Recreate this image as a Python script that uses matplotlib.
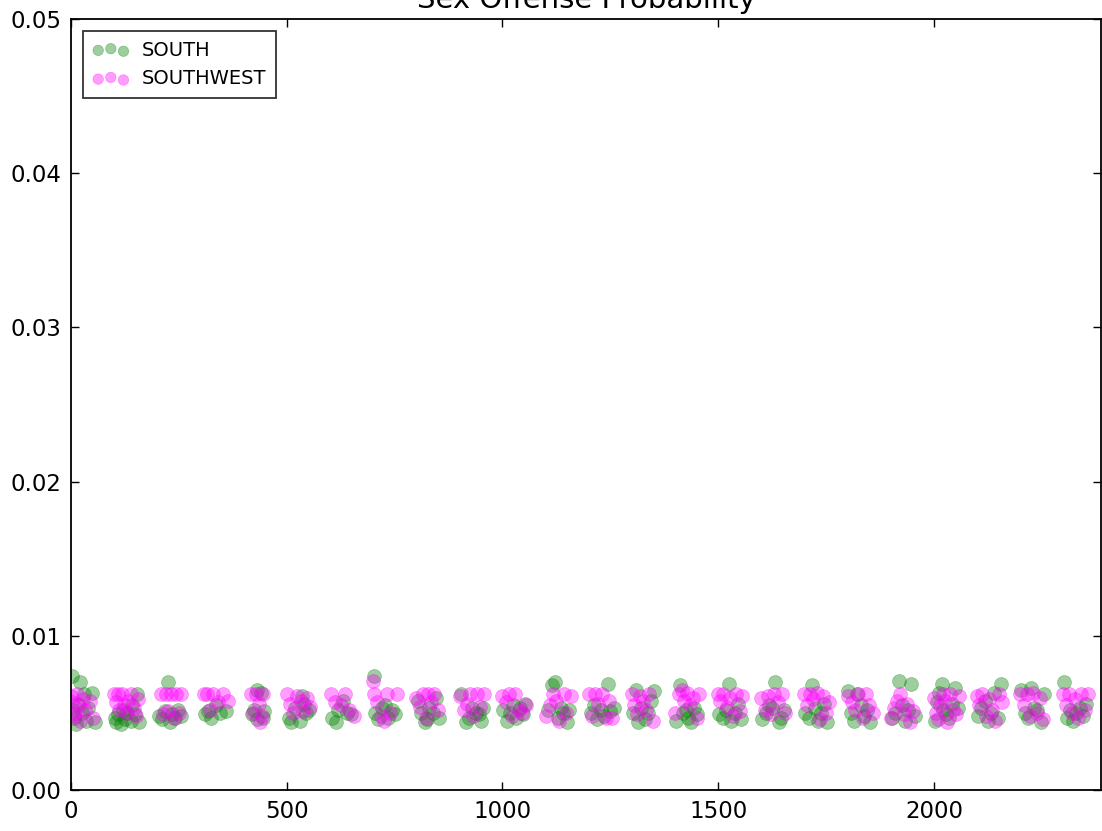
import numpy as np
import matplotlib
matplotlib.use("Agg")
import matplotlib.pyplot as plt
from matplotlib.ticker import FormatStrFormatter

# time of day as HHMM, probability of a sex offense per report
south_time = [
    2, 5, 8, 12, 15, 20, 25, 30, 35, 40, 48, 55,
    102, 105, 110, 115, 120, 125, 130, 138, 142, 148, 152, 158,
    205, 212, 218, 225, 230, 235, 240, 248, 255,
    310, 318, 325, 335, 345, 360,
    420, 425, 430, 432, 440, 445, 448,
    505, 510, 520, 530, 535, 540, 545, 552,
    605, 615, 620, 630, 640, 650,
    702, 705, 712, 720, 728, 735, 745, 752,
    805, 812, 820, 825, 830, 838, 845, 852,
    905, 915, 922, 930, 938, 945, 950, 955,
    1002, 1010, 1018, 1025, 1032, 1040, 1048, 1052,
    1105, 1115, 1122, 1128, 1135, 1140, 1150, 1155,
    1205, 1212, 1220, 1228, 1235, 1245, 1250, 1258,
    1302, 1310, 1315, 1322, 1330, 1338, 1345, 1352,
    1402, 1412, 1418, 1425, 1430, 1438, 1445, 1452,
    1502, 1510, 1518, 1525, 1530, 1538, 1545, 1552,
    1602, 1610, 1618, 1625, 1632, 1640, 1645, 1652,
    1702, 1710, 1718, 1725, 1732, 1738, 1745, 1752,
    1800, 1808, 1815, 1822, 1830, 1838, 1845, 1852,
    1902, 1910, 1918, 1925, 1932, 1940, 1948, 1955,
    2002, 2008, 2012, 2018, 2022, 2028, 2035, 2042, 2050, 2055,
    2102, 2110, 2118, 2125, 2132, 2140, 2148, 2155,
    2202, 2210, 2218, 2225, 2232, 2240, 2248, 2255,
    2302, 2308, 2315, 2322, 2330, 2338, 2345, 2352,
]
south_prob = [
    .0074, .0052, .0047, .0043, .0056, .0070, .0050, .0062, .0045, .0053, .0063, .0044,
    .0047, .0044, .0049, .0043, .0052, .0046, .0050, .0045, .0055, .0049, .0062, .0044,
    .0048, .0046, .0051, .0070, .0044, .0049, .0047, .0052, .0048,
    .0049, .0051, .0047, .0055, .0050, .0051,
    .0049, .0052, .0065, .0046, .0063, .0047, .0051,
    .0047, .0044, .0053, .0045, .0061, .0056, .0050, .0052,
    .0047, .0044, .0052, .0058, .0050, .0049,
    .0074, .0050, .0046, .0053, .0055, .0047, .0052, .0049,
    .0058, .0050, .0044, .0046, .0053, .0050, .0060, .0047,
    .0062, .0044, .0047, .0053, .0050, .0049, .0045, .0053,
    .0052, .0045, .0050, .0055, .0047, .0053, .0049, .0056,
    .0052, .0068, .0070, .0047, .0053, .0050, .0044, .0052,
    .0050, .0055, .0046, .0052, .0048, .0069, .0051, .0053,
    .0050, .0065, .0044, .0053, .0046, .0050, .0058, .0064,
    .0045, .0068, .0050, .0052, .0047, .0044, .0053, .0049,
    .0049, .0047, .0052, .0069, .0045, .0050, .0056, .0046,
    .0046, .0050, .0055, .0053, .0070, .0044, .0047, .0052,
    .0050, .0047, .0068, .0053, .0045, .0050, .0056, .0044,
    .0064, .0050, .0045, .0062, .0055, .0048, .0052, .0044,
    .0047, .0050, .0071, .0055, .0045, .0052, .0069, .0048,
    .0045, .0057, .0063, .0069, .0052, .0049, .0047, .0056, .0066, .0053,
    .0048, .0053, .0058, .0045, .0050, .0063, .0047, .0069,
    .0065, .0050, .0047, .0066, .0053, .0052, .0044, .0062,
    .0070, .0047, .0052, .0045, .0050, .0053, .0048, .0056,
]

southwest_time = [
    1, 3, 6, 10, 14, 18, 22, 28, 33, 45, 52,
    100, 104, 108, 112, 118, 122, 128, 133, 140, 145, 150, 155,
    208, 213, 220, 226, 232, 238, 244, 250, 256,
    308, 315, 322, 330, 340, 352, 365,
    418, 422, 428, 435, 438, 442, 446,
    500, 508, 515, 525, 532, 538, 548, 555,
    602, 612, 625, 635, 645, 655,
    700, 703, 710, 718, 725, 732, 740, 755,
    800, 808, 815, 822, 828, 835, 842, 850,
    902, 910, 918, 925, 932, 940, 948, 958,
    1000, 1008, 1015, 1022, 1030, 1038, 1045, 1055,
    1102, 1110, 1118, 1125, 1132, 1142, 1148, 1158,
    1200, 1208, 1215, 1222, 1230, 1240, 1248, 1255,
    1300, 1305, 1312, 1318, 1325, 1332, 1340, 1348,
    1400, 1410, 1415, 1420, 1428, 1435, 1442, 1450, 1455,
    1500, 1505, 1512, 1520, 1528, 1535, 1542, 1550, 1556,
    1600, 1608, 1615, 1622, 1630, 1638, 1648, 1655,
    1700, 1706, 1712, 1720, 1728, 1735, 1742, 1750, 1756,
    1802, 1810, 1818, 1825, 1835, 1842, 1850, 1858,
    1900, 1908, 1915, 1922, 1930, 1938, 1945, 1952,
    2000, 2005, 2010, 2015, 2020, 2025, 2030, 2038, 2045, 2052, 2058,
    2100, 2105, 2112, 2120, 2128, 2135, 2142, 2150, 2158,
    2200, 2208, 2215, 2222, 2230, 2238, 2245, 2252,
    2300, 2306, 2312, 2320, 2328, 2335, 2342, 2350, 2356,
]
southwest_prob = [
    .0061, .0057, .0050, .0048, .0062, .0055, .0045, .0059, .0052, .0058, .0047,
    .0062, .0057, .0062, .0052, .0062, .0055, .0050, .0058, .0062, .0053, .0048, .0059,
    .0062, .0049, .0062, .0051, .0062, .0047, .0062, .0050, .0062,
    .0062, .0062, .0052, .0062, .0057, .0062, .0058,
    .0062, .0050, .0062, .0056, .0044, .0048, .0062,
    .0062, .0056, .0050, .0061, .0058, .0051, .0060, .0054,
    .0062, .0057, .0055, .0062, .0052, .0048,
    .0071, .0062, .0057, .0048, .0045, .0062, .0050, .0062,
    .0060, .0054, .0062, .0047, .0062, .0057, .0062, .0052,
    .0061, .0052, .0056, .0062, .0048, .0062, .0054, .0062,
    .0061, .0057, .0062, .0048, .0062, .0052, .0050, .0055,
    .0048, .0055, .0062, .0058, .0045, .0062, .0050, .0061,
    .0062, .0048, .0062, .0056, .0062, .0047, .0058, .0047,
    .0062, .0055, .0049, .0061, .0058, .0052, .0062, .0045,
    .0050, .0062, .0065, .0058, .0063, .0055, .0060, .0047, .0062,
    .0062, .0058, .0062, .0054, .0060, .0048, .0062, .0051, .0061,
    .0060, .0052, .0061, .0049, .0062, .0057, .0062, .0050,
    .0062, .0055, .0062, .0059, .0063, .0046, .0061, .0050, .0057,
    .0061, .0057, .0052, .0062, .0047, .0062, .0055, .0050,
    .0047, .0053, .0058, .0062, .0049, .0056, .0044, .0051,
    .0060, .0050, .0046, .0055, .0062, .0058, .0044, .0062, .0052, .0049, .0061,
    .0061, .0055, .0062, .0048, .0059, .0052, .0045, .0062, .0057,
    .0062, .0055, .0062, .0048, .0063, .0050, .0060, .0046,
    .0062, .0055, .0062, .0050, .0059, .0047, .0062, .0052, .0062,
]

fig = plt.figure(figsize=(11.02, 8.31), dpi=100)
ax = fig.add_axes([0.0644, 0.0493, 0.9350, 0.9277])

ax.scatter(south_time, south_prob, s=100, color="#008000", alpha=0.38,
           linewidths=0.5, label="SOUTH")
ax.scatter(southwest_time, southwest_prob, s=100, color="#FF00FF", alpha=0.38,
           linewidths=0.5, label="SOUTHWEST")

ax.set_xlim(0, 2388)
ax.set_ylim(0, 0.05)
ax.set_xticks([0, 500, 1000, 1500, 2000])
ax.set_yticks([0.0, 0.01, 0.02, 0.03, 0.04, 0.05])
ax.yaxis.set_major_formatter(FormatStrFormatter("%.2f"))
ax.tick_params(direction="in", top=True, right=True, length=6, width=1,
               labelsize=16.5, pad=7)
for sp in ax.spines.values():
    sp.set_linewidth(1.3)

ax.set_title("Sex Offense Probability", fontsize=21, pad=8)

leg = ax.legend(loc="upper left", scatterpoints=3, markerscale=0.75,
                fontsize=14, fancybox=False, frameon=True,
                borderaxespad=0.6, handlelength=1.9, handletextpad=0.65,
                labelspacing=0.5, borderpad=0.5)
leg.get_frame().set_edgecolor("black")
leg.get_frame().set_linewidth(1.3)

fig.savefig("out.png", dpi=100)
